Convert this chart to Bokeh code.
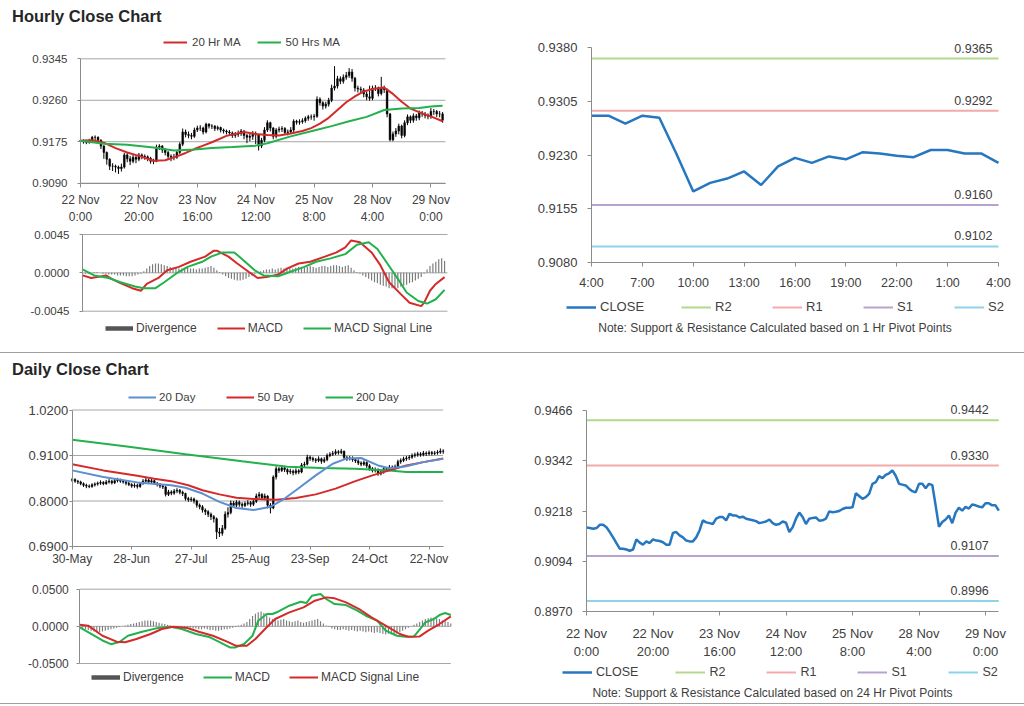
from bokeh.plotting import figure
from bokeh.models import Range1d, FixedTicker, NumeralTickFormatter, Legend, Label, Div, ColumnDataSource
from bokeh.layouts import row, column
from bokeh.embed import file_html
from bokeh.resources import INLINE
from bokeh.core.properties import value

FONT = "Liberation Sans"
TXT = "#404040"
GRID = "#a6a6a6"
AX = "#8c8c8c"
RED = "#d42a2a"
GREEN = "#22b14c"
BLUE = "#5b8fd0"
CLOSE_C = "#2677c0"
DIV_C = "#7a7a7a"
NAN = float("nan")

# ---------------- Hourly data (22 Nov 0:00 -> 29 Nov 4:00) ----------------
h_xlabels = ["22 Nov\n0:00", "22 Nov\n20:00", "23 Nov\n16:00", "24 Nov\n12:00",
             "25 Nov\n8:00", "28 Nov\n4:00", "29 Nov\n0:00"]
h_yticks = [0.9090, 0.9175, 0.9260, 0.9345]
h_first_open = 0.9178
h_close = [
    0.9177, 0.9176, 0.9174, 0.9176, 0.9184, 0.9184, 0.9178, 0.9166, 0.9153, 0.9139,
    0.9125, 0.9125, 0.9123, 0.9120, 0.9123, 0.9148, 0.9140, 0.9135, 0.9143, 0.9139,
    0.9148, 0.9145, 0.9144, 0.9141, 0.9135, 0.9135, 0.9164, 0.9166, 0.9158, 0.9153,
    0.9145, 0.9143, 0.9143, 0.9153, 0.9170, 0.9195, 0.9190, 0.9188, 0.9186, 0.9199,
    0.9203, 0.9203, 0.9195, 0.9211, 0.9207, 0.9207, 0.9202, 0.9204, 0.9199, 0.9197,
    0.9195, 0.9193, 0.9188, 0.9190, 0.9192, 0.9197, 0.9188, 0.9184, 0.9186, 0.9192,
    0.9189, 0.9166, 0.9178, 0.9199, 0.9214, 0.9203, 0.9186, 0.9199, 0.9201, 0.9202,
    0.9194, 0.9195, 0.9199, 0.9217, 0.9215, 0.9216, 0.9218, 0.9223, 0.9226, 0.9226,
    0.9227, 0.9262, 0.9255, 0.9248, 0.9252, 0.9260, 0.9285, 0.9289, 0.9304, 0.9299,
    0.9307, 0.9311, 0.9318, 0.9305, 0.9285, 0.9283, 0.9281, 0.9273, 0.9267, 0.9264,
    0.9285, 0.9285, 0.9274, 0.9285, 0.9282, 0.9232, 0.9179, 0.9191, 0.9197, 0.9207,
    0.9188, 0.9214, 0.9226, 0.9219, 0.9228, 0.9224, 0.9234, 0.9232, 0.9229, 0.9227,
    0.9237, 0.9237, 0.9232, 0.9232, 0.9219]
h_high = [
    0.9182, 0.9180, 0.9179, 0.9181, 0.9187, 0.9188, 0.9186, 0.9180, 0.9168, 0.9155,
    0.9141, 0.9131, 0.9128, 0.9126, 0.9130, 0.9152, 0.9152, 0.9146, 0.9149, 0.9147,
    0.9152, 0.9151, 0.9149, 0.9147, 0.9144, 0.9140, 0.9169, 0.9170, 0.9168, 0.9162,
    0.9156, 0.9149, 0.9150, 0.9157, 0.9174, 0.9202, 0.9200, 0.9196, 0.9193, 0.9204,
    0.9208, 0.9209, 0.9206, 0.9214, 0.9213, 0.9211, 0.9209, 0.9208, 0.9206, 0.9202,
    0.9200, 0.9199, 0.9196, 0.9195, 0.9198, 0.9201, 0.9199, 0.9191, 0.9192, 0.9197,
    0.9196, 0.9191, 0.9183, 0.9205, 0.9219, 0.9216, 0.9205, 0.9203, 0.9206, 0.9207,
    0.9205, 0.9200, 0.9205, 0.9221, 0.9220, 0.9221, 0.9223, 0.9227, 0.9230, 0.9231,
    0.9232, 0.9268, 0.9266, 0.9258, 0.9257, 0.9265, 0.9292, 0.9330, 0.9310, 0.9309,
    0.9313, 0.9318, 0.9326, 0.9324, 0.9308, 0.9290, 0.9288, 0.9285, 0.9278, 0.9290,
    0.9290, 0.9291, 0.9288, 0.9308, 0.9290, 0.9284, 0.9234, 0.9196, 0.9203, 0.9212,
    0.9210, 0.9219, 0.9231, 0.9229, 0.9233, 0.9232, 0.9239, 0.9238, 0.9236, 0.9233,
    0.9244, 0.9242, 0.9240, 0.9238, 0.9236]
h_low = [
    0.9172, 0.9171, 0.9170, 0.9171, 0.9173, 0.9178, 0.9174, 0.9160, 0.9140, 0.9128,
    0.9117, 0.9115, 0.9112, 0.9109, 0.9114, 0.9120, 0.9133, 0.9127, 0.9131, 0.9131,
    0.9135, 0.9139, 0.9138, 0.9135, 0.9130, 0.9129, 0.9133, 0.9158, 0.9152, 0.9147,
    0.9139, 0.9135, 0.9137, 0.9140, 0.9150, 0.9166, 0.9184, 0.9182, 0.9180, 0.9183,
    0.9195, 0.9197, 0.9190, 0.9192, 0.9202, 0.9201, 0.9197, 0.9198, 0.9194, 0.9192,
    0.9190, 0.9188, 0.9183, 0.9183, 0.9185, 0.9187, 0.9180, 0.9172, 0.9176, 0.9179,
    0.9170, 0.9157, 0.9162, 0.9174, 0.9195, 0.9196, 0.9180, 0.9182, 0.9194, 0.9195,
    0.9189, 0.9188, 0.9191, 0.9195, 0.9210, 0.9210, 0.9212, 0.9214, 0.9218, 0.9220,
    0.9218, 0.9224, 0.9249, 0.9241, 0.9243, 0.9247, 0.9256, 0.9280, 0.9284, 0.9293,
    0.9294, 0.9302, 0.9306, 0.9298, 0.9278, 0.9276, 0.9274, 0.9266, 0.9260, 0.9259,
    0.9260, 0.9279, 0.9268, 0.9270, 0.9275, 0.9225, 0.9176, 0.9176, 0.9185, 0.9190,
    0.9182, 0.9184, 0.9209, 0.9213, 0.9214, 0.9218, 0.9219, 0.9226, 0.9223, 0.9221,
    0.9222, 0.9230, 0.9226, 0.9225, 0.9214]

ma20_x = [0, 4, 8, 12, 16, 20, 25, 29, 33, 36, 39, 42, 45, 50, 56, 60, 64, 68, 72, 76,
          79, 82, 85, 88, 91, 94, 97, 100, 104, 107, 110, 113, 117, 120, 124]
ma20_v = [0.9177, 0.9178, 0.9173, 0.9162, 0.9153, 0.9146, 0.9136, 0.9137, 0.9145, 0.9152,
          0.9160, 0.9167, 0.9174, 0.9187, 0.9195, 0.9191, 0.9189, 0.9188, 0.9192, 0.9197,
          0.9203, 0.9212, 0.9224, 0.9240, 0.9256, 0.9268, 0.9278, 0.9283, 0.9286, 0.9273,
          0.9257, 0.9243, 0.9233, 0.9227, 0.9217]
ma50_x = [0, 8, 16, 25, 32, 39, 45, 52, 60, 64, 72, 80, 86, 92, 98, 104, 110, 116, 120, 124]
ma50_v = [0.9177, 0.9171, 0.9169, 0.9163, 0.9157, 0.9159, 0.9162, 0.9164, 0.9167, 0.9172,
          0.9186, 0.9198, 0.9207, 0.9217, 0.9226, 0.9240, 0.9243, 0.9244, 0.9247, 0.9249]

hm_yticks = [-0.0045, 0.0, 0.0045]
hmacd_x = [0, 3, 5, 8, 10, 13, 17, 20, 22, 26, 29, 33, 37, 42, 45, 46, 50, 53, 57, 60,
           63, 67, 70, 74, 78, 83, 87, 90, 92, 95, 99, 102, 105, 109, 112, 116, 117, 119, 121, 124]
hmacd_v = [-0.0003, -0.0006, -0.0005, -0.0003, -0.0007, -0.0012, -0.0018, -0.0021, -0.0013, -0.0006,
           0.0003, 0.0007, 0.0013, 0.0019, 0.0026, 0.0026, 0.0019, 0.0011, 0.0001, -0.0006,
           -0.0005, -0.0002, 0.0005, 0.0011, 0.0013, 0.0019, 0.0024, 0.0030, 0.0038, 0.0036,
           0.0024, 0.0009, -0.0011, -0.0025, -0.0035, -0.0039, -0.0035, -0.0021, -0.0013, -0.0005]
hsig_x = [0, 4, 9, 13, 18, 21, 25, 28, 32, 36, 41, 44, 48, 52, 55, 59, 62, 67, 71, 76,
          80, 85, 90, 94, 98, 101, 104, 108, 111, 115, 118, 121, 124]
hsig_v = [0.0004, -0.0003, -0.0006, -0.0011, -0.0016, -0.0018, -0.0018, -0.0011, -0.0001, 0.0007,
          0.0013, 0.0019, 0.0024, 0.0024, 0.0015, 0.0003, -0.0003, -0.0004, 0.0001, 0.0007,
          0.0013, 0.0017, 0.0022, 0.0033, 0.0036, 0.0028, 0.0013, -0.0007, -0.0023, -0.0033,
          -0.0036, -0.0031, -0.0020]
hdiv = [
    -0.0001, -0.0001, -0.0001, 0.0000, 0.0001, 0.0001, 0.0000, -0.0001, -0.0001, -0.0002,
    -0.0002, -0.0002, -0.0003, -0.0003, -0.0003, -0.0004, -0.0004, -0.0004, -0.0003, -0.0002,
    -0.0001, 0.0002, 0.0005, 0.0008, 0.0010, 0.0011, 0.0011, 0.0010, 0.0009, 0.0008,
    0.0007, 0.0006, 0.0006, 0.0005, 0.0005, 0.0006, 0.0006, 0.0005, 0.0005, 0.0004,
    0.0005, 0.0005, 0.0006, 0.0007, 0.0008, 0.0006, 0.0003, 0.0001, -0.0002, -0.0004,
    -0.0006, -0.0007, -0.0008, -0.0009, -0.0009, -0.0008, -0.0007, -0.0005, -0.0003, -0.0001,
    0.0001, 0.0002, 0.0003, 0.0004, 0.0004, 0.0005, 0.0004, 0.0005, 0.0006, 0.0005,
    0.0006, 0.0006, 0.0005, 0.0006, 0.0007, 0.0007, 0.0006, 0.0007, 0.0008, 0.0007,
    0.0006, 0.0007, 0.0008, 0.0008, 0.0007, 0.0008, 0.0009, 0.0009, 0.0008, 0.0007,
    0.0008, 0.0009, 0.0006, 0.0003, 0.0001, -0.0001, -0.0003, -0.0005, -0.0007, -0.0009,
    -0.0011, -0.0012, -0.0014, -0.0015, -0.0016, -0.0018, -0.0018, -0.0017, -0.0018, -0.0016,
    -0.0015, -0.0014, -0.0012, -0.0011, -0.0009, -0.0007, -0.0005, -0.0001, 0.0004, 0.0008,
    0.0011, 0.0013, 0.0016, 0.0017, 0.0014]

# ---------------- 1 Hr pivot chart (28 Nov 4:00 -> 29 Nov 4:00) ----------------
p1_close = [0.9285, 0.9285, 0.9274, 0.9285, 0.9282, 0.9232, 0.9179, 0.9191, 0.9197, 0.9207,
            0.9188, 0.9214, 0.9226, 0.9219, 0.9228, 0.9224, 0.9234, 0.9232, 0.9229, 0.9227,
            0.9237, 0.9237, 0.9232, 0.9232, 0.9219]
p1_xlabels = ["4:00", "7:00", "10:00", "13:00", "16:00", "19:00", "22:00", "1:00", "4:00"]
p1_yticks = [0.9080, 0.9155, 0.9230, 0.9305, 0.9380]
p1_levels = [0.9365, 0.9292, 0.9160, 0.9102]

# ---------------- 24 Hr pivot chart ----------------
p2_yticks = [0.8970, 0.9094, 0.9218, 0.9342, 0.9466]
p2_levels = [0.9442, 0.9330, 0.9107, 0.8996]

level_names = ["R2", "R1", "S1", "S2"]
level_colors = ["#b3d88c", "#f2aaaa", "#b7a2d0", "#8ed3ea"]

# ---------------- Daily data (30 May -> 29 Nov) ----------------
d_xlabels = ["30-May", "28-Jun", "27-Jul", "25-Aug", "23-Sep", "24-Oct", "22-Nov"]
d_yticks = [0.69, 0.80, 0.91, 1.02]
d_first_open = 0.850
d_close = [
    0.852, 0.848, 0.846, 0.842, 0.838, 0.836, 0.835, 0.839, 0.841, 0.843,
    0.845, 0.842, 0.846, 0.848, 0.844, 0.849, 0.851, 0.848, 0.846, 0.843,
    0.840, 0.836, 0.838, 0.835, 0.842, 0.848, 0.851, 0.846, 0.849, 0.843,
    0.840, 0.836, 0.834, 0.816, 0.822, 0.819, 0.824, 0.826, 0.821, 0.818,
    0.806, 0.803, 0.805, 0.800, 0.790, 0.786, 0.778, 0.774, 0.768, 0.762,
    0.757, 0.725, 0.722, 0.734, 0.768, 0.772, 0.795, 0.790, 0.797, 0.792,
    0.789, 0.794, 0.796, 0.792, 0.799, 0.812, 0.816, 0.808, 0.812, 0.790,
    0.783, 0.858, 0.878, 0.874, 0.880, 0.876, 0.870, 0.872, 0.868, 0.873,
    0.870, 0.887, 0.889, 0.906, 0.903, 0.900, 0.898, 0.902, 0.896, 0.900,
    0.910, 0.913, 0.915, 0.919, 0.917, 0.920, 0.905, 0.902, 0.904, 0.900,
    0.897, 0.892, 0.889, 0.893, 0.885, 0.878, 0.874, 0.876, 0.866, 0.870,
    0.878, 0.876, 0.882, 0.880, 0.883, 0.895, 0.898, 0.902, 0.904, 0.906,
    0.910, 0.912, 0.914, 0.912, 0.916, 0.914, 0.917, 0.915, 0.916, 0.918,
    0.921, 0.920]
d_high = [
    0.856, 0.855, 0.851, 0.849, 0.845, 0.842, 0.840, 0.843, 0.845, 0.847,
    0.850, 0.848, 0.851, 0.853, 0.851, 0.854, 0.856, 0.854, 0.851, 0.849,
    0.847, 0.843, 0.843, 0.842, 0.846, 0.853, 0.856, 0.854, 0.854, 0.852,
    0.846, 0.843, 0.840, 0.836, 0.827, 0.826, 0.829, 0.831, 0.829, 0.825,
    0.820, 0.810, 0.810, 0.808, 0.803, 0.794, 0.790, 0.782, 0.778, 0.772,
    0.766, 0.760, 0.735, 0.742, 0.775, 0.785, 0.801, 0.800, 0.802, 0.801,
    0.797, 0.799, 0.802, 0.800, 0.806, 0.818, 0.822, 0.819, 0.818, 0.814,
    0.795, 0.862, 0.884, 0.882, 0.886, 0.884, 0.879, 0.878, 0.876, 0.879,
    0.877, 0.892, 0.895, 0.912, 0.910, 0.907, 0.904, 0.908, 0.905, 0.906,
    0.915, 0.918, 0.921, 0.925, 0.923, 0.926, 0.922, 0.909, 0.909, 0.908,
    0.904, 0.901, 0.896, 0.898, 0.896, 0.889, 0.882, 0.881, 0.879, 0.875,
    0.883, 0.882, 0.887, 0.886, 0.888, 0.900, 0.903, 0.907, 0.909, 0.911,
    0.915, 0.917, 0.919, 0.918, 0.921, 0.920, 0.922, 0.921, 0.921, 0.923,
    0.927, 0.925]
d_low = [
    0.846, 0.844, 0.841, 0.838, 0.834, 0.831, 0.831, 0.832, 0.835, 0.837,
    0.839, 0.838, 0.839, 0.842, 0.840, 0.841, 0.845, 0.844, 0.842, 0.838,
    0.836, 0.832, 0.832, 0.830, 0.832, 0.839, 0.844, 0.842, 0.842, 0.839,
    0.835, 0.831, 0.829, 0.811, 0.812, 0.814, 0.815, 0.819, 0.816, 0.812,
    0.801, 0.798, 0.798, 0.794, 0.784, 0.780, 0.772, 0.766, 0.761, 0.754,
    0.748, 0.708, 0.713, 0.716, 0.730, 0.760, 0.768, 0.783, 0.785, 0.786,
    0.783, 0.785, 0.789, 0.786, 0.788, 0.795, 0.806, 0.802, 0.802, 0.782,
    0.770, 0.780, 0.852, 0.868, 0.870, 0.870, 0.864, 0.865, 0.862, 0.864,
    0.865, 0.867, 0.882, 0.886, 0.897, 0.895, 0.892, 0.894, 0.890, 0.892,
    0.896, 0.906, 0.909, 0.911, 0.912, 0.913, 0.900, 0.897, 0.898, 0.895,
    0.892, 0.887, 0.884, 0.885, 0.880, 0.873, 0.869, 0.869, 0.861, 0.862,
    0.866, 0.871, 0.872, 0.875, 0.876, 0.880, 0.890, 0.894, 0.897, 0.899,
    0.902, 0.905, 0.907, 0.907, 0.908, 0.909, 0.910, 0.910, 0.911, 0.912,
    0.914, 0.914]

d20_x = [0, 11, 23, 35, 40, 46, 52, 58, 64, 70, 75, 79, 86, 92, 97, 102, 108, 112, 118, 124, 131]
d20_v = [0.874, 0.858, 0.845, 0.838, 0.832, 0.818, 0.798, 0.783, 0.778, 0.786, 0.806,
         0.826, 0.862, 0.890, 0.903, 0.904, 0.886, 0.879, 0.884, 0.894, 0.902]
d50_x = [0, 11, 23, 29, 35, 41, 46, 52, 58, 64, 72, 79, 86, 93, 100, 106, 112, 118, 124, 131]
d50_v = [0.889, 0.874, 0.861, 0.854, 0.848, 0.838, 0.826, 0.816, 0.808, 0.805,
         0.803, 0.807, 0.816, 0.830, 0.848, 0.862, 0.874, 0.886, 0.894, 0.903]
d200_x = [0, 20, 40, 60, 71, 76, 88, 100, 112, 118, 131]
d200_v = [0.948, 0.931, 0.913, 0.896, 0.887, 0.883, 0.880, 0.878, 0.874, 0.870, 0.870]

dm_yticks = [-0.05, 0.0, 0.05]
dmacd_x = [0, 4, 8, 11, 14, 17, 22, 27, 32, 36, 41, 46, 49, 53, 55, 58, 61, 63, 66, 68,
           70, 74, 78, 80, 82, 85, 87, 90, 94, 98, 101, 105, 108, 112, 115, 118, 120, 122, 125, 127, 129, 131]
dmacd_v = [-0.0013, -0.010, -0.019, -0.024, -0.021, -0.0126, -0.0072, -0.0027, -0.0004, -0.0036,
           -0.0103, -0.0148, -0.0206, -0.0283, -0.0283, -0.0238, -0.0126, 0.0076, 0.0166, 0.0166,
           0.0197, 0.0278, 0.0332, 0.0314, 0.0413, 0.0435, 0.0368, 0.030, 0.0287, 0.0211,
           0.0143, 0.0076, -0.0058, -0.0126, -0.0139, -0.0135, -0.0045, 0.0054, 0.0099, 0.0152,
           0.018, 0.0152]
dsig_x = [0, 3, 8, 13, 16, 20, 25, 29, 33, 38, 42, 47, 52, 55, 59, 62, 66, 69, 74, 79,
          83, 87, 90, 94, 99, 103, 108, 113, 116, 120, 123, 127, 131]
dsig_v = [0.0022, 0.0009, -0.0126, -0.0206, -0.0215, -0.017, -0.0103, -0.0036, -0.0004, -0.0022,
          -0.0072, -0.0126, -0.0206, -0.026, -0.026, -0.017, -0.0013, 0.0099, 0.0188, 0.0256,
          0.0345, 0.039, 0.0377, 0.0323, 0.0224, 0.0121, 0.0009, -0.0103, -0.0139, -0.0135,
          -0.0058, 0.0031, 0.0135]
ddiv = [
    0.000, -0.002, -0.004, -0.005, -0.006, -0.007, -0.008, -0.008, -0.007, -0.006,
    -0.005, -0.004, -0.003, -0.002, -0.001, 0.000, 0.001, 0.002, 0.003, 0.004,
    0.005, 0.006, 0.007, 0.008, 0.008, 0.008, 0.007, 0.006, 0.005, 0.004,
    0.003, 0.002, 0.001, 0.000, -0.001, -0.002, -0.002, -0.003, -0.003, -0.002,
    -0.003, -0.003, -0.004, -0.004, -0.003, -0.004, -0.005, -0.005, -0.006, -0.006,
    -0.005, -0.004, -0.004, -0.003, -0.002, -0.001, 0.001, 0.002, 0.004, 0.006,
    0.010, 0.014, 0.017, 0.019, 0.020, 0.018, 0.015, 0.012, 0.010, 0.009,
    0.008, 0.009, 0.010, 0.008, 0.007, 0.006, 0.007, 0.008, 0.006, 0.005,
    0.006, 0.007, 0.008, 0.009, 0.010, 0.007, 0.004, 0.001, -0.001, -0.003,
    -0.004, -0.005, -0.005, -0.004, -0.005, -0.006, -0.005, -0.006, -0.007, -0.006,
    -0.007, -0.008, -0.007, -0.008, -0.009, -0.008, -0.009, -0.010, -0.011, -0.010,
    -0.011, -0.012, -0.010, -0.008, -0.006, -0.004, -0.002, 0.000, 0.002, 0.004,
    0.006, 0.008, 0.010, 0.011, 0.012, 0.012, 0.011, 0.010, 0.008, 0.007,
    0.006, 0.004]


# ---------------- helpers ----------------
def frame_fig(W, H, px, py, xr, yr):
    """Whole canvas is the frame; the data box xr x yr sits at pixel box px x py."""
    sx = (xr[1] - xr[0]) / (px[1] - px[0])
    sy = (yr[1] - yr[0]) / (py[1] - py[0])
    p = figure(width=W, height=H,
               x_range=Range1d(xr[0] - px[0] * sx, xr[1] + (W - px[1]) * sx),
               y_range=Range1d(yr[0] - (H - py[1]) * sy, yr[1] + py[0] * sy),
               toolbar_location=None, output_backend="svg",
               min_border_left=0, min_border_right=0, min_border_top=0, min_border_bottom=0)
    p.title.visible = False
    p.outline_line_color = None
    p.background_fill_color = "white"
    p.border_fill_color = "white"
    p.xgrid.visible = False
    p.ygrid.visible = False
    return p


def style_axis(ax, size, tick_out=3, standoff=8):
    ax.axis_line_color = AX
    ax.major_tick_line_color = AX
    ax.major_tick_out = tick_out
    ax.major_tick_in = 0
    ax.minor_tick_line_color = None
    ax.major_label_text_font = FONT
    ax.major_label_text_font_size = size
    ax.major_label_text_color = TXT
    ax.major_label_standoff = standoff


def y_setup(p, ticks, xr, size, tick_out, standoff, grid):
    ax = p.yaxis[0]
    ax.ticker = FixedTicker(ticks=ticks)
    ax.formatter = NumeralTickFormatter(format="0.0000")
    ax.fixed_location = xr[0]
    ax.bounds = (ticks[0], ticks[-1])
    style_axis(ax, size, tick_out, standoff)
    if grid:
        p.segment(x0=[xr[0]] * len(ticks), y0=ticks, x1=[xr[1]] * len(ticks), y1=ticks,
                  line_color=GRID, line_width=1, level="underlay")


def x_setup(p, labels, step, xr, ybase, size, tick_out, standoff):
    ax = p.xaxis[0]
    ticks = [k * step for k in range(len(labels))]
    ax.ticker = FixedTicker(ticks=ticks)
    ax.major_label_overrides = {t: lab for t, lab in zip(ticks, labels)}
    ax.fixed_location = ybase
    ax.bounds = (xr[0], xr[1])
    style_axis(ax, size, tick_out, standoff)


def add_legend(p, items, loc, size, glyph_w, standoff, spacing):
    lg = Legend(items=items, location=loc, orientation="horizontal",
                glyph_width=glyph_w, glyph_height=14, label_height=14,
                label_standoff=standoff, spacing=spacing, padding=0, margin=0,
                label_text_font=FONT, label_text_font_size=size, label_text_color=TXT,
                border_line_alpha=0, background_fill_alpha=0)
    p.add_layout(lg)


def candles(p, first_open, closes, highs, lows, body_w):
    opens = [first_open] + closes[:-1]
    src = ColumnDataSource(dict(
        x=list(range(len(closes))), hi=highs, lo=lows,
        top=[max(o, c) for o, c in zip(opens, closes)],
        bot=[min(o, c) for o, c in zip(opens, closes)]))
    p.segment(x0="x", y0="lo", x1="x", y1="hi", source=src, line_color="black", line_width=1)
    p.vbar(x="x", top="top", bottom="bot", width=body_w, source=src,
           fill_color="black", line_color="black", line_width=0.5)


def macd_panel(p, div, line1, line2, names, colors, legend_loc, glyph_w, spacing):
    p.vbar(x=list(range(len(div))), top=div, bottom=0, width=0.4,
           fill_color=DIV_C, line_color=None)
    # legend key for the histogram: a thick dark bar (no visible data of its own)
    div_key = p.line(x=[NAN], y=[NAN], line_width=4.5, line_color="#555555")
    r1 = p.line(x=line1[0], y=line1[1], line_width=2, line_color=colors[0])
    r2 = p.line(x=line2[0], y=line2[1], line_width=2, line_color=colors[1])
    p.xaxis.visible = False
    add_legend(p, [("Divergence", [div_key]), (names[0], [r1]), (names[1], [r2])],
               legend_loc, "12px", glyph_w, 3, spacing)


def pivot_panel(p, closes, levels, label_xoff, legend_loc, lsize, note, note_xy):
    n = len(closes)
    xs = list(range(n))
    rs = []
    for lv, col in zip(levels, level_colors):
        rs.append(p.line(x=[xs[0], xs[-1]], y=[lv, lv], line_width=2, line_color=col))
    rc = p.line(x=xs, y=closes, line_width=2.5, line_color=CLOSE_C)
    src = ColumnDataSource(dict(x=[xs[-1]] * len(levels), y=levels,
                                t=[f"{v:.4f}" for v in levels]))
    p.text(x="x", y="y", text="t", source=src, text_font=value(FONT),
           text_font_size="12.5px", text_color=TXT, text_align="right",
           text_baseline="bottom", x_offset=label_xoff, y_offset=-6)
    items = [("CLOSE", [rc])] + [(nm, [r]) for nm, r in zip(level_names, rs)]
    add_legend(p, items, legend_loc, lsize, 30, 4, 37)
    p.add_layout(Label(x=note_xy[0], y=note_xy[1], x_units="screen", y_units="screen",
                       text=note, text_align="center", text_baseline="middle",
                       text_font=FONT, text_font_size="12px", text_color=TXT))


def title_div(text, h, pad):
    return Div(text=(f'<div style="font-family:\'{FONT}\';font-weight:bold;font-size:16.5px;'
                     f'color:#262626;padding-left:12px;padding-top:{pad}px;line-height:16px;'
                     f'white-space:nowrap">{text}</div>'),
               width=500, height=h, margin=0)


def sep_div():
    return Div(text="", width=1024, height=3, margin=0,
               styles={"border-top": "1px solid #a0a0a0", "box-sizing": "border-box"})


# ---------------- Hourly candle chart ----------------
c1_xr = (0, 125)
c1_yr = (h_yticks[0], h_yticks[-1])
c1 = frame_fig(500, 199, (80, 445), (32.3, 156.7), c1_xr, c1_yr)
y_setup(c1, h_yticks, c1_xr, "11.5px", 3, 10, True)
candles(c1, h_first_open, h_close, h_high, h_low, 0.6)
r_ma20 = c1.line(x=ma20_x, y=ma20_v, line_width=2, line_color=RED)
r_ma50 = c1.line(x=ma50_x, y=ma50_v, line_width=2, line_color=GREEN)
x_setup(c1, h_xlabels, 20, c1_xr, c1_yr[0], "12px", 4, 6)
add_legend(c1, [("20 Hr MA", [r_ma20]), ("50 Hrs MA", [r_ma50])], (163, 176), "11.5px", 24, 5, 16)

# ---------------- Hourly MACD ----------------
m1_xr = (0, 125)
m1_yr = (hm_yticks[0], hm_yticks[-1])
m1 = frame_fig(500, 127, (82, 447), (9, 85.7), m1_xr, m1_yr)
y_setup(m1, hm_yticks, m1_xr, "11.5px", 3, 10, True)
macd_panel(m1, hdiv, (hmacd_x, hmacd_v), (hsig_x, hsig_v), ["MACD", "MACD Signal Line"],
           [RED, GREEN], (105, 17), 28, 20)

# ---------------- 1 Hr pivot chart ----------------
r1_xr = (0, len(p1_close) - 1)
r1_yr = (p1_yticks[0], p1_yticks[-1])
r1 = frame_fig(524, 352, (91, 498), (47.3, 261.7), r1_xr, r1_yr)
pivot_panel(r1, p1_close, p1_levels, -6, (66, 38), "13px",
            "Note: Support & Resistance Calculated based on 1 Hr Pivot Points", (274.5, 24.3))
y_setup(r1, p1_yticks, r1_xr, "13px", 4, 10, False)
x_setup(r1, p1_xlabels, 3, r1_xr, r1_yr[0], "12.5px", 4, 10)

# ---------------- Daily candle chart ----------------
c2_xr = (0, 131)
c2_yr = (d_yticks[0], d_yticks[-1])
c2 = frame_fig(500, 190, (71.7, 442.7), (26.5, 163), c2_xr, c2_yr)
y_setup(c2, d_yticks, c2_xr, "13px", 3, 1, True)
candles(c2, d_first_open, d_close, d_high, d_low, 0.6)
r_d200 = c2.line(x=d200_x, y=d200_v, line_width=2, line_color=GREEN)
r_d50 = c2.line(x=d50_x, y=d50_v, line_width=2, line_color=RED)
r_d20 = c2.line(x=d20_x, y=d20_v, line_width=2, line_color=BLUE)
x_setup(c2, d_xlabels, 21, c2_xr, c2_yr[0], "12px", 3, 2)
add_legend(c2, [("20 Day", [r_d20]), ("50 Day", [r_d50]), ("200 Day", [r_d200])],
           (128, 169), "11.5px", 28, 3, 31)

# ---------------- Daily MACD ----------------
m2_xr = (0, 131)
m2_yr = (dm_yticks[0], dm_yticks[-1])
m2 = frame_fig(500, 130, (79.3, 450.3), (15.7, 90), m2_xr, m2_yr)
y_setup(m2, dm_yticks, m2_xr, "12px", 3, 8, True)
macd_panel(m2, ddiv, (dmacd_x, dmacd_v), (dsig_x, dsig_v), ["MACD", "MACD Signal Line"],
           [GREEN, RED], (91, 19), 29, 19)

# ---------------- 24 Hr pivot chart ----------------
r2_xr = (0, len(h_close) - 1)
r2_yr = (p2_yticks[0], p2_yticks[-1])
r2 = frame_fig(524, 348, (86, 498.3), (55, 256), r2_xr, r2_yr)
pivot_panel(r2, h_close, p2_levels, -10, (62, 24), "12.5px",
            "Note: Support & Resistance Calculated based on 24 Hr Pivot Points", (272, 10.5))
y_setup(r2, p2_yticks, r2_xr, "12.5px", 4, 10, False)
x_setup(r2, h_xlabels, 20, r2_xr, r2_yr[0], "13px", 4, 10)

# ---------------- layout ----------------
top = row(column(title_div("Hourly Close Chart", 26, 8), c1, m1, spacing=0), r1, spacing=0)
bottom = row(column(title_div("Daily Close Chart", 28, 6), c2, m2, spacing=0), r2, spacing=0)
layout = column(top, sep_div(), bottom, sep_div(), spacing=0)

open("out.html", "w").write(file_html(layout, INLINE))
